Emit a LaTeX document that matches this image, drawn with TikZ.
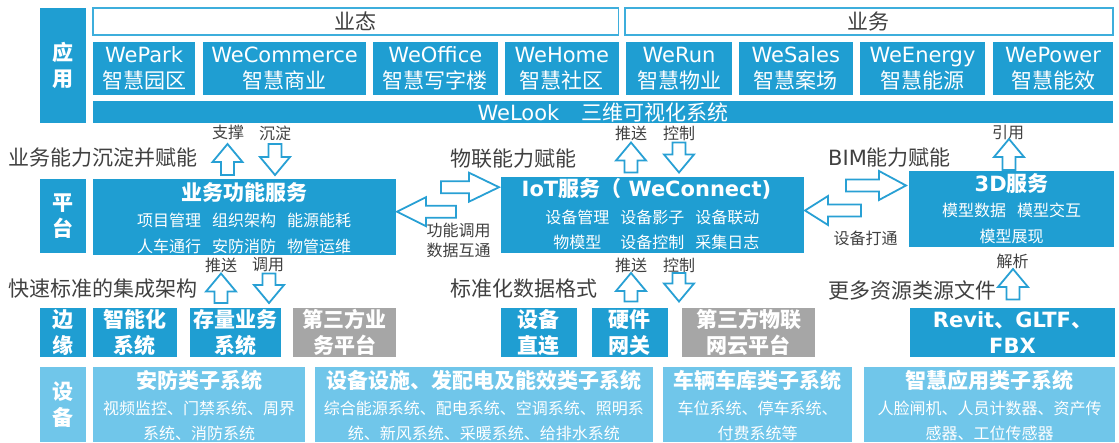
\documentclass[tikz,border=0pt]{standalone}
\usepackage{fontspec}
\setmainfont{Noto Sans CJK SC}
\newfontfamily\lat{DejaVu Sans}
\usetikzlibrary{calc}
\definecolor{mblue}{RGB}{31,158,210}
\definecolor{lblue}{RGB}{112,198,234}
\definecolor{mgrey}{RGB}{166,166,166}
\definecolor{hblue}{RGB}{62,174,220}
\definecolor{tgrey}{RGB}{64,64,64}
\definecolor{ablue}{RGB}{40,160,212}
\newcommand\bx[7]{\node[#6, minimum width={(#4)-(#2)}, minimum height={(#5)-(#3)}] (#1) at ({((#2)+(#4))/2},{((#3)+(#5))/2}) {#7};}
\newcommand\upArr[3]{\draw[arr] ({#1},{#2}) -- ({#1+15},{#2+18}) -- ({#1+6.5},{#2+18}) -- ({#1+6.5},{#3}) -- ({#1-6.5},{#3}) -- ({#1-6.5},{#2+18}) -- ({#1-15},{#2+18}) -- cycle;}
\newcommand\dnArr[3]{\draw[arr] ({#1},{#3}) -- ({#1+15},{#3-18}) -- ({#1+6.5},{#3-18}) -- ({#1+6.5},{#2}) -- ({#1-6.5},{#2}) -- ({#1-6.5},{#3-18}) -- ({#1-15},{#3-18}) -- cycle;}
\newcommand\rtArr[4]{\draw[arr] ({#1},{#3-6}) -- ({#2-#4},{#3-6}) -- ({#2-#4},{#3-14.5}) -- ({#2},{#3}) -- ({#2-#4},{#3+14.5}) -- ({#2-#4},{#3+6}) -- ({#1},{#3+6}) -- cycle;}
\newcommand\ltArr[4]{\draw[arr] ({#2},{#3-6}) -- ({#1+#4},{#3-6}) -- ({#1+#4},{#3-14.5}) -- ({#1},{#3}) -- ({#1+#4},{#3+14.5}) -- ({#1+#4},{#3+6}) -- ({#2},{#3+6}) -- cycle;}
\begin{document}
\begin{tikzpicture}[x=1pt,y=-1pt,
  bbox/.style={fill=mblue, text=white, inner sep=0pt, outer sep=0pt, align=center},
  lbox/.style={fill=lblue, text=white, inner sep=0pt, outer sep=0pt, align=center},
  gbox/.style={fill=mgrey, text=white, inner sep=0pt, outer sep=0pt, align=center},
  hdr/.style={draw=hblue, line width=1.6pt, fill=white, text=tgrey, inner sep=0pt, font=\fontsize{21}{26}\selectfont},
  apptxt/.style={font=\fontsize{21}{26.5}\selectfont},
  boldtxt/.style={font=\bfseries\fontsize{21}{26}\selectfont},
  ttl/.style={text=white, font=\bfseries\fontsize{21}{25}\selectfont, inner sep=0pt},
  sub/.style={text=white, font=\fontsize{16}{20}\selectfont, inner sep=0pt},
  lab/.style={text=tgrey, font=\fontsize{21}{25}\selectfont, inner sep=0pt},
  slab/.style={text=tgrey, font=\fontsize{16}{20}\selectfont, inner sep=0pt, align=center},
  arr/.style={draw=ablue, line width=1.8pt, fill=white, line join=miter}]
\useasboundingbox (0,0) rectangle (1119,442);
% side labels
\bx{sApp}{40}{8}{86}{123}{bbox,boldtxt}{应\\用}
\bx{sPlat}{40}{179.3}{86}{253.3}{bbox,boldtxt}{平\\台}
\bx{sEdge}{40}{308.3}{86}{356.7}{bbox,boldtxt}{边\\缘}
\bx{sDev}{40}{367.3}{86}{442}{lbox,boldtxt}{设\\备}
% application layer
\bx{hA}{93}{8}{618.5}{35}{hdr}{业态}
\bx{hB}{625}{8}{1112.7}{35}{hdr}{业务}
\bx{a1}{93}{42}{195}{95}{bbox,apptxt}{{\lat WePark}\\智慧园区}
\bx{a2}{203}{42}{366}{95}{bbox,apptxt}{{\lat WeCommerce}\\智慧商业}
\bx{a3}{373}{42}{497.7}{95}{bbox,apptxt}{{\lat WeOffice}\\智慧写字楼}
\bx{a4}{505}{42}{618.7}{95}{bbox,apptxt}{{\lat WeHome}\\智慧社区}
\bx{a5}{626}{42}{732}{95}{bbox,apptxt}{{\lat WeRun}\\智慧物业}
\bx{a6}{739}{42}{852.7}{95}{bbox,apptxt}{{\lat WeSales}\\智慧案场}
\bx{a7}{860}{42}{985}{95}{bbox,apptxt}{{\lat WeEnergy}\\智慧能源}
\bx{a8}{993.3}{42}{1112.7}{95}{bbox,apptxt}{{\lat WePower}\\智慧能效}
\bx{wl}{93}{100.7}{1113}{123.3}{bbox,apptxt}{{\lat WeLook}\hspace{22pt}三维可视化系统}
% platform layer
\bx{biz}{93}{179.3}{396}{254.7}{bbox}{}
\node[ttl] (bizT) at (244.5,192.7) {业务功能服务};
\node[sub] (bizL1) at (244.2,220) {项目管理\hspace{11pt}组织架构\hspace{11pt}能源能耗};
\node[sub] (bizL2) at (244.2,246) {人车通行\hspace{11pt}安防消防\hspace{11pt}物管运维};
\bx{iot}{500.7}{177.3}{804}{252.7}{bbox}{}
\node[ttl] (iotT) at (646.5,189.3) {{\lat IoT}服务（{\lat\ WeConnect)}};
\node[sub] (iotL1) at (652.4,217.7) {设备管理\hspace{11pt}设备影子\hspace{11pt}设备联动};
\node[sub] (iotL2) at (652.4,242.7) {\makebox[64pt]{物模型}\hspace{11pt}设备控制\hspace{11pt}采集日志};
\bx{tdd}{909}{171}{1114}{246.7}{bbox}{}
\node[ttl] (tddT) at (1011.7,184) {{\lat 3D}服务};
\node[sub] (tddL1) at (1011.7,210.7) {模型数据\hspace{11pt}模型交互};
\node[sub] (tddL2) at (1011.7,236) {模型展现};
% edge layer
\bx{e1}{93}{308.3}{176.7}{356.7}{bbox,boldtxt}{智能化\\系统}
\bx{e2}{190}{308.3}{281}{356.7}{bbox,boldtxt}{存量业务\\系统}
\bx{e3}{293.3}{308.3}{396}{356.7}{gbox,boldtxt}{第三方业\\务平台}
\bx{e4}{501}{308.3}{576.7}{356.7}{bbox,boldtxt}{设备\\直连}
\bx{e5}{592}{308.3}{667.7}{356.7}{bbox,boldtxt}{硬件\\网关}
\bx{e6}{682}{308.3}{815}{356.7}{gbox,boldtxt}{第三方物联\\网云平台}
\bx{e7}{910}{308.3}{1115}{356.7}{bbox,boldtxt}{{\lat Revit}、{\lat GLTF}、\\{\lat FBX}}
% device layer
\bx{d1}{93}{367.3}{305}{442}{lbox}{}
\bx{d2}{315}{367.3}{652.7}{442}{lbox}{}
\bx{d3}{663.3}{367.3}{851.7}{442}{lbox}{}
\bx{d4}{864}{367.3}{1115}{442}{lbox}{}
\node[ttl] (d1T) at (199,380) {安防类子系统};
\node[sub] (d1L1) at (199,408.3) {视频监控、门禁系统、周界};
\node[sub] (d1L2) at (199,433.3) {系统、消防系统};
\node[ttl] (d2T) at (483.9,380) {设备设施、发配电及能效类子系统};
\node[sub] (d2L1) at (483.9,408.3) {综合能源系统、配电系统、空调系统、照明系};
\node[sub] (d2L2) at (483.9,433.3) {统、新风系统、采暖系统、给排水系统};
\node[ttl] (d3T) at (757.5,380) {车辆车库类子系统};
\node[sub] (d3L1) at (757.5,408.3) {车位系统、停车系统、};
\node[sub] (d3L2) at (757.5,433.3) {付费系统等};
\node[ttl] (d4T) at (989.5,380) {智慧应用类子系统};
\node[sub] (d4L1) at (989.5,408.3) {人脸闸机、人员计数器、资产传};
\node[sub] (d4L2) at (989.5,433.3) {感器、工位传感器};
% big labels
\node[lab, anchor=west] (g1) at (8,158) {业务能力沉淀并赋能};
\node[lab, anchor=west] (g2) at (8,289) {快速标准的集成架构};
\node[lab, anchor=west] (g3) at (450,158.3) {物联能力赋能};
\node[lab, anchor=west] (g4) at (450,289) {标准化数据格式};
\node[lab, anchor=west] (g5) at (828,158) {{\lat BIM}能力赋能};
\node[lab, anchor=west] (g6) at (828,290) {更多资源类源文件};
\node[slab] (m1) at (458.7,240) {功能调用\\数据互通};
\node[slab] (m2) at (865.5,238) {设备打通};
% small labels
\node[slab] (s1) at (228,132.7) {支撑};
\node[slab] (s2) at (275,133) {沉淀};
\node[slab] (s3) at (631,133) {推送};
\node[slab] (s4) at (679,133) {控制};
\node[slab] (s5) at (1008,132.7) {引用};
\node[slab] (s6) at (221,265) {推送};
\node[slab] (s7) at (268,265) {调用};
\node[slab] (s8) at (631,265) {推送};
\node[slab] (s9) at (679,265) {控制};
\node[slab] (s10) at (1012.7,261.7) {解析};
% block arrows
\upArr{227.5}{144}{175}
\dnArr{275}{144}{175}
\upArr{631}{142.5}{172.5}
\dnArr{679}{142.5}{172.5}
\upArr{1009}{139}{170}
\upArr{221}{273.5}{303}
\dnArr{269}{273.5}{303}
\upArr{631}{273}{301.5}
\dnArr{679}{273}{301.5}
\upArr{1013}{269}{299.5}
\rtArr{441}{499}{187.2}{30}
\ltArr{397}{456}{211.7}{29}
\rtArr{846}{906}{185.5}{27}
\ltArr{805}{861}{210.5}{23}
\end{tikzpicture}
\end{document}
